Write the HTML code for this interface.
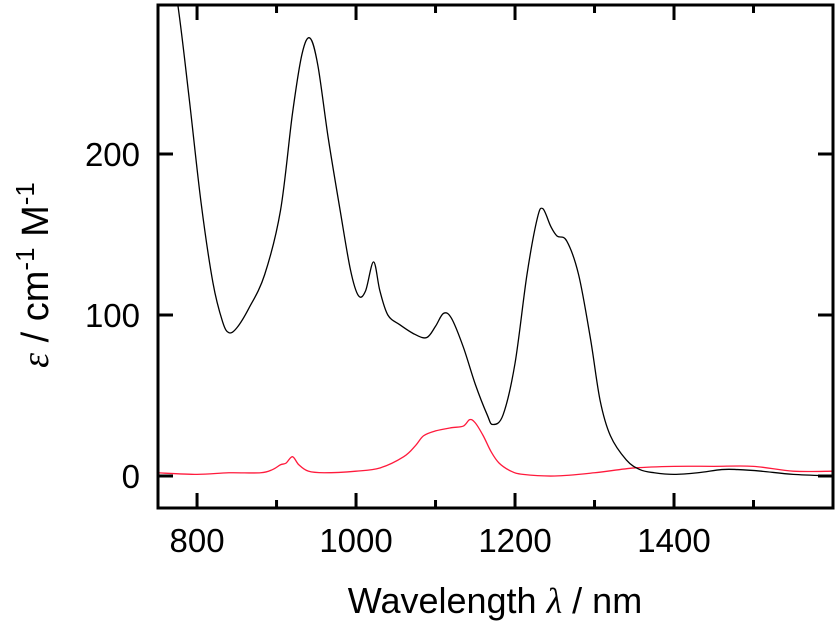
<!DOCTYPE html>
<html><head><meta charset="utf-8"><style>
body{margin:0;background:#fff;}
svg{display:block;font-family:"Liberation Sans",sans-serif;}
</style></head><body>
<svg id="chart" width="840" height="627" viewBox="0 0 840 627" xmlns="http://www.w3.org/2000/svg">
<g id="axes"></g>
<g id="series"></g>
<text x="495" y="613" font-size="36" text-anchor="middle">Wavelength <tspan font-style="italic" font-family="'Liberation Serif',serif">λ</tspan> / nm</text>
<text transform="translate(48,275) rotate(-90)" font-size="38" text-anchor="middle"><tspan font-style="italic" font-family="'Liberation Serif',serif">ε</tspan> / cm<tspan dy="-14" font-size="26">-1</tspan><tspan dy="14"> M</tspan><tspan dy="-14" font-size="26">-1</tspan></text>
</svg>
<script>
const blackX=[760,776,790,805,820,832,840,850,865,885,905,920,932,942,952,965,980,993,1003,1012,1022,1030,1040,1055,1074,1089,1100,1110,1120,1135,1150,1165,1172,1185,1200,1215,1228,1235,1245,1253,1265,1280,1295,1307,1320,1340,1357,1375,1400,1430,1460,1480,1510,1550,1600];
const blackY=[340,292,235,170,120,96,89,92,104,125,165,225,262,272,255,210,165,128,112,115,133,115,100,94,88,86,93,101,98,80,57,38,32,38,70,125,160,166,155,149,146,125,85,47,25,10,4,2,1,2,4,4,3,1,0];
const redX=[750,800,840,880,895,905,912,920,928,940,960,1000,1030,1060,1075,1085,1100,1120,1135,1143,1150,1160,1170,1180,1195,1210,1250,1300,1350,1400,1450,1500,1550,1600];
const redY=[2,1,2,2,4,7,8,12,7,3,2,3,5,12,19,25,28,30,31,35,33,25,15,8,3,1,0,2,5,6,6,6,3,3];
const xTicks=[800,1000,1200,1400];
const xMinor=[900,1100,1300,1500];
const yTicks=[0,100,200];
const L=157.3,R=833,T=5,B=508;
const X0=750,X1=1600;
const sx=v=>L+(v-X0)*(R-L)/(X1-X0);
const sy=v=>476-v*1.61;
const NS="http://www.w3.org/2000/svg";
const axes=document.getElementById('axes');
function mk(tag,attrs,parent){const e=document.createElementNS(NS,tag);for(const k in attrs)e.setAttribute(k,attrs[k]);parent.appendChild(e);return e;}
const frame=mk('rect',{x:158,y:5,width:675,height:503,fill:'none',stroke:'#000','stroke-width':3},axes);


xTicks.forEach(v=>{
 const t=mk('path',{d:`M${sx(v)},${B} v-15 M${sx(v)},${T} v15`,stroke:'#000','stroke-width':3},axes);
 
 
 const lb=mk('text',{x:sx(v),y:552,'font-size':33,'text-anchor':'middle'},axes);lb.textContent=v;
 
 
});
xMinor.forEach(v=>{
 const t=mk('path',{d:`M${sx(v)},${B} v-8 M${sx(v)},${T} v8`,stroke:'#000','stroke-width':3},axes);
 
 
});
yTicks.forEach(v=>{
 const t=mk('path',{d:`M158,${sy(v)} h15 M${R},${sy(v)} h-15`,stroke:'#000','stroke-width':3},axes);
 
 
 const lb=mk('text',{x:140,y:sy(v)+12,'font-size':33,'text-anchor':'end'},axes);lb.textContent=v;
 
 
});
function smooth(xs,ys){
 const p=xs.map((x,i)=>[sx(x),sy(ys[i])]);
 let d=`M${p[0][0]},${p[0][1]}`;
 for(let i=0;i<p.length-1;i++){
  const p0=p[Math.max(0,i-1)],p1=p[i],p2=p[i+1],p3=p[Math.min(p.length-1,i+2)];
  d+=` C${p1[0]+(p2[0]-p0[0])/6},${p1[1]+(p2[1]-p0[1])/6} ${p2[0]-(p3[0]-p1[0])/6},${p2[1]-(p3[1]-p1[1])/6} ${p2[0]},${p2[1]}`;
 }
 return d;
}
const ser=document.getElementById('series');
mk('clipPath',{id:'clip'},ser).appendChild(document.createElementNS(NS,'rect'));
const cr=ser.querySelector('clipPath rect');cr.setAttribute('x',159.5);cr.setAttribute('y',6.5);cr.setAttribute('width',672);cr.setAttribute('height',500);
const rl=mk('path',{d:smooth(redX,redY),fill:'none',stroke:'#ff1a3c','stroke-width':1.3,'clip-path':'url(#clip)'},ser);


const bl=mk('path',{d:smooth(blackX,blackY),fill:'none',stroke:'#000','stroke-width':1.3,'clip-path':'url(#clip)'},ser);


</script>
</body></html>
